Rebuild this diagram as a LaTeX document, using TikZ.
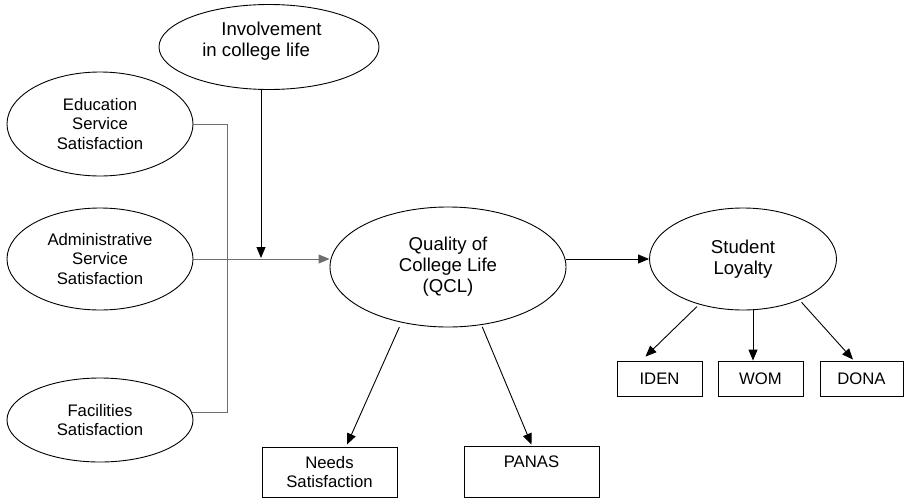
\documentclass[tikz,border=0pt]{standalone}
\usepackage{fontspec}
\setmainfont{Liberation Sans}
\usetikzlibrary{shapes.geometric,arrows.meta,calc}
\definecolor{lgray}{HTML}{6E6E6E}
\begin{document}
\begin{tikzpicture}[x=1pt,y=-1pt,
  bigf/.style={font=\fontsize{18.6}{21}\selectfont},
  smallf/.style={font=\fontsize{16.7}{19.5}\selectfont},
  ell/.style={draw, ellipse, inner sep=0pt, line width=0.9pt, align=center},
  box/.style={draw, rectangle, inner sep=0pt, line width=0.9pt, align=center, smallf},
  arr/.style={-{Triangle[length=11pt,width=9pt]}, line width=0.9pt},
  garr/.style={-{Triangle[length=11pt,width=9pt]}, draw=lgray, fill=lgray, line width=0.9pt},
  gline/.style={draw=lgray, line width=0.9pt}]
\useasboundingbox (0,0) rectangle (905,498);

% ellipses
\node[ell, minimum width=220pt, minimum height=85pt] (inv) at (269,47) {};
\node[bigf, align=left, inner sep=0pt] (invtext) at (262,41) {\hspace*{19pt}Involvement\\in college life};
\node[ell, smallf, minimum width=186pt, minimum height=104pt] (edu) at (100,124) {Education\\Service\\Satisfaction};
\node[ell, smallf, minimum width=186pt, minimum height=102pt] (adm) at (100,259) {Administrative\\Service\\Satisfaction};
\node[ell, smallf, minimum width=186pt, minimum height=84pt] (fac) at (100,420) {Facilities\\Satisfaction};
\node[ell, bigf, minimum width=236pt, minimum height=120pt] (qcl) at (448,267) {Quality of\\College Life\\(QCL)};
\node[ell, bigf, minimum width=187pt, minimum height=102pt] (sl) at (743,259) {Student\\Loyalty};

% boxes
\node[box, minimum width=135pt, minimum height=50pt] (needs) at (329.5,472) {Needs\\Satisfaction};
\node[box, minimum width=135pt, minimum height=51pt] (panas) at (531.5,471.5) {PANAS\\~};
\node[box, minimum width=85pt, minimum height=35pt] (iden) at (659.5,378.5) {IDEN};
\node[box, minimum width=85pt, minimum height=35pt] (wom) at (760.5,378.5) {WOM};
\node[box, minimum width=83pt, minimum height=35pt] (dona) at (861.5,378.5) {DONA};

% left bracket (gray)
\coordinate (j) at ([xshift=-8pt]inv.south |- adm.east);
\draw[gline] (edu.east) -- ++(34,0) coordinate (bt) |- (fac.5);
\draw[garr] (adm.east) -- (adm.east -| qcl.west);
\draw[arr] ([xshift=-8pt]inv.south) -- ([yshift=1pt]j);

% main arrows
\draw[arr] (sl.west -| qcl.east) -- (sl.west);
\draw[arr, shorten <=5pt] (qcl.-130) -- ([xshift=17.5pt,yshift=2pt]needs.north);
\draw[arr, shorten <=2pt] (qcl.-60.5) -- ([yshift=1pt]panas.north);
\draw[arr, shorten <=3pt] (sl.-134) -- ([xshift=-14pt,yshift=4pt]iden.north);
\draw[arr] ([xshift=-7.5pt]wom.north |- sl.south) -- ([xshift=-7.5pt]wom.north);
\draw[arr, shorten <=3pt] (sl.-36) -- ([xshift=-8.5pt,yshift=1pt]dona.north);
\end{tikzpicture}
\end{document}
